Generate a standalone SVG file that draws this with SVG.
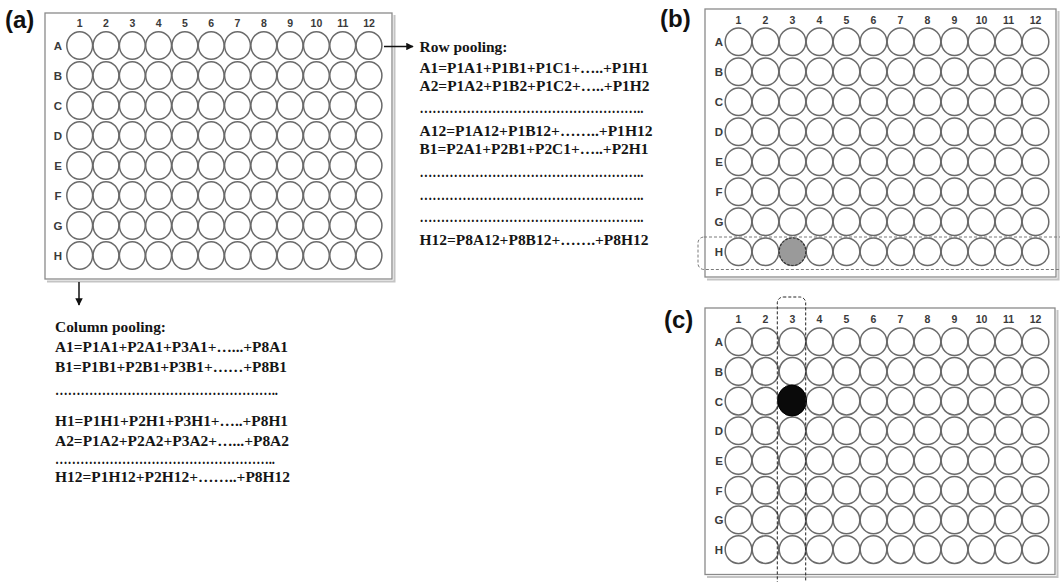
<svg xmlns="http://www.w3.org/2000/svg" xmlns:xlink="http://www.w3.org/1999/xlink" width="1060" height="582" viewBox="0 0 1060 582">
<style>
.plate{fill:#fff;stroke:#8a8a8a;stroke-width:1.3}
.shadow{fill:none;stroke:#c4c4c4;stroke-width:2}
.well{fill:#fff;stroke:#6a6a6a;stroke-width:1.5}
.num{font-family:"Liberation Sans",Arial,sans-serif;font-weight:bold;font-size:10.5px;fill:#3a3a3a;text-anchor:middle}
.row{font-family:"Liberation Sans",Arial,sans-serif;font-weight:bold;font-size:11.5px;fill:#3a3a3a;text-anchor:middle}
.panel{font-family:"Liberation Sans",Arial,sans-serif;font-weight:bold;font-size:24px;fill:#111}
.pool{font-family:"Liberation Serif","Times New Roman",serif;font-weight:bold;font-size:15px;fill:#151515}
.conn{stroke:#111;stroke-width:1.5;fill:none}
</style>
<defs>
<marker id="ah" viewBox="0 0 10 10" refX="9" refY="5" markerWidth="5" markerHeight="5" orient="auto" markerUnits="strokeWidth">
<path d="M0,0 L10,5 L0,10 z" fill="#111"/>
</marker>
<g id="rowA">
<ellipse class="well" cx="0" cy="0" rx="12.9" ry="13.8"/>
<ellipse class="well" cx="26.3" cy="0" rx="12.9" ry="13.8"/>
<ellipse class="well" cx="52.6" cy="0" rx="12.9" ry="13.8"/>
<ellipse class="well" cx="78.9" cy="0" rx="12.9" ry="13.8"/>
<ellipse class="well" cx="105.2" cy="0" rx="12.9" ry="13.8"/>
<ellipse class="well" cx="131.5" cy="0" rx="12.9" ry="13.8"/>
<ellipse class="well" cx="157.8" cy="0" rx="12.9" ry="13.8"/>
<ellipse class="well" cx="184.1" cy="0" rx="12.9" ry="13.8"/>
<ellipse class="well" cx="210.4" cy="0" rx="12.9" ry="13.8"/>
<ellipse class="well" cx="236.7" cy="0" rx="12.9" ry="13.8"/>
<ellipse class="well" cx="263" cy="0" rx="12.9" ry="13.8"/>
<ellipse class="well" cx="289.3" cy="0" rx="12.9" ry="13.8"/>
</g>
<g id="rowB">
<ellipse class="well" cx="0" cy="0" rx="13.3" ry="13.8"/>
<ellipse class="well" cx="27" cy="0" rx="13.3" ry="13.8"/>
<ellipse class="well" cx="54" cy="0" rx="13.3" ry="13.8"/>
<ellipse class="well" cx="81" cy="0" rx="13.3" ry="13.8"/>
<ellipse class="well" cx="108" cy="0" rx="13.3" ry="13.8"/>
<ellipse class="well" cx="135" cy="0" rx="13.3" ry="13.8"/>
<ellipse class="well" cx="162" cy="0" rx="13.3" ry="13.8"/>
<ellipse class="well" cx="189" cy="0" rx="13.3" ry="13.8"/>
<ellipse class="well" cx="216" cy="0" rx="13.3" ry="13.8"/>
<ellipse class="well" cx="243" cy="0" rx="13.3" ry="13.8"/>
<ellipse class="well" cx="270" cy="0" rx="13.3" ry="13.8"/>
<ellipse class="well" cx="297" cy="0" rx="13.3" ry="13.8"/>
</g>
</defs>
<rect width="1060" height="582" fill="#fff"/>

<g id="label-a"><text class="panel" x="5" y="28">(a)</text></g>
<g id="label-b"><text class="panel" x="660" y="27">(b)</text></g>
<g id="label-c"><text class="panel" x="664" y="328">(c)</text></g>

<g id="plate-a">
<polyline class="shadow" points="394.5,15 394.5,281.5 47,281.5"/>
<rect class="plate" x="45" y="13" width="347" height="266"/>
<use xlink:href="#rowA" x="79.7" y="45.5"/>
<use xlink:href="#rowA" x="79.7" y="75.5"/>
<use xlink:href="#rowA" x="79.7" y="105.5"/>
<use xlink:href="#rowA" x="79.7" y="135.5"/>
<use xlink:href="#rowA" x="79.7" y="165.5"/>
<use xlink:href="#rowA" x="79.7" y="195.5"/>
<use xlink:href="#rowA" x="79.7" y="225.5"/>
<use xlink:href="#rowA" x="79.7" y="255.5"/>
<text class="num" x="79.7" y="26.5">1</text><text class="num" x="106" y="26.5">2</text><text class="num" x="132.3" y="26.5">3</text><text class="num" x="158.6" y="26.5">4</text><text class="num" x="184.9" y="26.5">5</text><text class="num" x="211.2" y="26.5">6</text><text class="num" x="237.5" y="26.5">7</text><text class="num" x="263.8" y="26.5">8</text><text class="num" x="290.1" y="26.5">9</text><text class="num" x="316.4" y="26.5">10</text><text class="num" x="342.7" y="26.5">11</text><text class="num" x="369" y="26.5">12</text>
<text class="row" x="58" y="49.5">A</text><text class="row" x="58" y="79.5">B</text><text class="row" x="58" y="109.5">C</text><text class="row" x="58" y="139.5">D</text><text class="row" x="58" y="169.5">E</text><text class="row" x="58" y="199.5">F</text><text class="row" x="58" y="229.5">G</text><text class="row" x="58" y="259.5">H</text>
</g>

<g id="row-pooling">
<text class="pool" x="419.5" y="52" textLength="88" lengthAdjust="spacingAndGlyphs">Row pooling:</text>
<text class="pool" x="419.5" y="72.5" textLength="229" lengthAdjust="spacingAndGlyphs">A1=P1A1+P1B1+P1C1+…..+P1H1</text>
<text class="pool" x="419.5" y="91" textLength="230" lengthAdjust="spacingAndGlyphs">A2=P1A2+P1B2+P1C2+…..+P1H2</text>
<text class="pool" x="419.5" y="112.5" textLength="224" lengthAdjust="spacingAndGlyphs">……………………………………………..</text>
<text class="pool" x="419.5" y="135.5" textLength="233" lengthAdjust="spacingAndGlyphs">A12=P1A12+P1B12+……..+P1H12</text>
<text class="pool" x="419.5" y="154" textLength="229" lengthAdjust="spacingAndGlyphs">B1=P2A1+P2B1+P2C1+…..+P2H1</text>
<text class="pool" x="419.5" y="176.5" textLength="224" lengthAdjust="spacingAndGlyphs">……………………………………………..</text>
<text class="pool" x="419.5" y="199.5" textLength="224" lengthAdjust="spacingAndGlyphs">……………………………………………..</text>
<text class="pool" x="419.5" y="221.5" textLength="224" lengthAdjust="spacingAndGlyphs">……………………………………………..</text>
<text class="pool" x="419.5" y="245" textLength="229" lengthAdjust="spacingAndGlyphs">H12=P8A12+P8B12+…….+P8H12</text>
</g>

<g id="column-pooling">
<text class="pool" x="55" y="332" textLength="111" lengthAdjust="spacingAndGlyphs">Column pooling:</text>
<text class="pool" x="55" y="352" textLength="233" lengthAdjust="spacingAndGlyphs">A1=P1A1+P2A1+P3A1+…...+P8A1</text>
<text class="pool" x="55" y="372" textLength="232" lengthAdjust="spacingAndGlyphs">B1=P1B1+P2B1+P3B1+……+P8B1</text>
<text class="pool" x="55" y="395" textLength="223" lengthAdjust="spacingAndGlyphs">……………………………………………..</text>
<text class="pool" x="55" y="426" textLength="233" lengthAdjust="spacingAndGlyphs">H1=P1H1+P2H1+P3H1+…..+P8H1</text>
<text class="pool" x="55" y="446" textLength="234" lengthAdjust="spacingAndGlyphs">A2=P1A2+P2A2+P3A2+…...+P8A2</text>
<text class="pool" x="55" y="464" textLength="220" lengthAdjust="spacingAndGlyphs">……………………………………………..</text>
<text class="pool" x="55" y="481.5" textLength="235" lengthAdjust="spacingAndGlyphs">H12=P1H12+P2H12+……..+P8H12</text>
</g>

<g id="plate-b">
<polyline class="shadow" points="1058.5,11 1058.5,279.5 707,279.5"/>
<rect class="plate" x="705" y="9" width="351" height="268"/>
<use xlink:href="#rowB" x="738.5" y="41.7"/>
<use xlink:href="#rowB" x="738.5" y="71.7"/>
<use xlink:href="#rowB" x="738.5" y="101.7"/>
<use xlink:href="#rowB" x="738.5" y="131.7"/>
<use xlink:href="#rowB" x="738.5" y="161.7"/>
<use xlink:href="#rowB" x="738.5" y="191.7"/>
<use xlink:href="#rowB" x="738.5" y="221.7"/>
<use xlink:href="#rowB" x="738.5" y="251.7"/>
<ellipse cx="792.5" cy="251.7" rx="13.3" ry="13.8" fill="#9a9a9a" stroke="#333" stroke-width="1.2" stroke-dasharray="2.5,1.5"/>
<rect x="698" y="237" width="370" height="32.5" rx="6" fill="none" stroke="#7a7a7a" stroke-width="1" stroke-dasharray="3,2"/>
<text class="num" x="738.5" y="23.5">1</text><text class="num" x="765.5" y="23.5">2</text><text class="num" x="792.5" y="23.5">3</text><text class="num" x="819.5" y="23.5">4</text><text class="num" x="846.5" y="23.5">5</text><text class="num" x="873.5" y="23.5">6</text><text class="num" x="900.5" y="23.5">7</text><text class="num" x="927.5" y="23.5">8</text><text class="num" x="954.5" y="23.5">9</text><text class="num" x="981.5" y="23.5">10</text><text class="num" x="1008.5" y="23.5">11</text><text class="num" x="1035.5" y="23.5">12</text>
<text class="row" x="719" y="46.2">A</text><text class="row" x="719" y="76.2">B</text><text class="row" x="719" y="106.2">C</text><text class="row" x="719" y="136.2">D</text><text class="row" x="719" y="166.2">E</text><text class="row" x="719" y="196.2">F</text><text class="row" x="719" y="226.2">G</text><text class="row" x="719" y="256.2">H</text>
</g>

<g id="plate-c">
<polyline class="shadow" points="1057.5,310 1057.5,577 707,577"/>
<rect class="plate" x="705" y="308" width="350" height="266.5"/>
<use xlink:href="#rowB" x="738.5" y="341.7"/>
<use xlink:href="#rowB" x="738.5" y="371.4"/>
<use xlink:href="#rowB" x="738.5" y="401.1"/>
<use xlink:href="#rowB" x="738.5" y="430.8"/>
<use xlink:href="#rowB" x="738.5" y="460.5"/>
<use xlink:href="#rowB" x="738.5" y="490.2"/>
<use xlink:href="#rowB" x="738.5" y="519.9"/>
<use xlink:href="#rowB" x="738.5" y="549.6"/>
<ellipse cx="792" cy="400.5" rx="14.5" ry="15.5" fill="#0a0a0a" stroke="#000" stroke-width="1"/>
<rect x="777.3" y="297" width="28.4" height="300" rx="6" fill="none" stroke="#222" stroke-width="1" stroke-dasharray="3,2"/>
<text class="num" x="738.5" y="323">1</text><text class="num" x="765.5" y="323">2</text><text class="num" x="792.5" y="323">3</text><text class="num" x="819.5" y="323">4</text><text class="num" x="846.5" y="323">5</text><text class="num" x="873.5" y="323">6</text><text class="num" x="900.5" y="323">7</text><text class="num" x="927.5" y="323">8</text><text class="num" x="954.5" y="323">9</text><text class="num" x="981.5" y="323">10</text><text class="num" x="1008.5" y="323">11</text><text class="num" x="1035.5" y="323">12</text>
<text class="row" x="719" y="346.2">A</text><text class="row" x="719" y="375.9">B</text><text class="row" x="719" y="405.6">C</text><text class="row" x="719" y="435.3">D</text><text class="row" x="719" y="465">E</text><text class="row" x="719" y="494.7">F</text><text class="row" x="719" y="524.4">G</text><text class="row" x="719" y="554.1">H</text>
</g>

<g id="connectors">
<line class="conn" x1="384" y1="46.5" x2="413" y2="46.5" marker-end="url(#ah)"/>
<line class="conn" x1="79" y1="282" x2="79" y2="305" marker-end="url(#ah)"/>
</g>
</svg>
